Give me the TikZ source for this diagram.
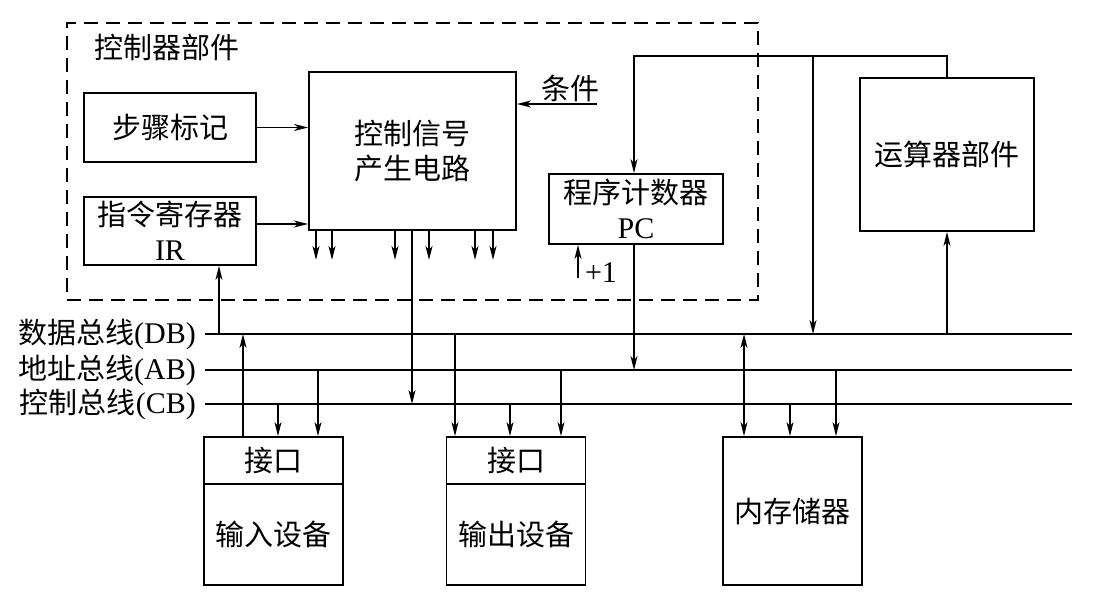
\documentclass[tikz,border=0pt]{standalone}
\usepackage{fontspec}
\setmainfont{Liberation Serif}
\newfontfamily\cjk{Noto Sans CJK SC}
\usetikzlibrary{arrows.meta}
\newcommand\myfs{\fontsize{29}{35}\selectfont}
\newcommand\lat{\rmfamily\fontsize{30}{35}\selectfont}
\begin{document}
\begin{tikzpicture}[x=1pt,y=-1pt,
  box/.style={draw, line width=1.9pt, rectangle, inner sep=0pt, align=center, font=\myfs\cjk},
  lbl/.style={inner sep=0pt, font=\myfs\cjk},
  conn/.style={line width=1.5pt},
  arr/.style={conn, -{Stealth[length=14pt,width=7pt,inset=4pt]}},
  darr/.style={conn, {Stealth[length=14pt,width=7pt,inset=4pt]}-{Stealth[length=14pt,width=7pt,inset=4pt]}},
  bus/.style={line width=1.8pt},
  frame/.style={draw, dash pattern=on 14pt off 8pt, line width=1.7pt, inner sep=0pt}]
\useasboundingbox (0,0) rectangle (1095,604);
% control unit frame
\node[frame, minimum width=691pt, minimum height=277pt] (cu) at (412.5,161.5) {};
\node[lbl] (cutitle) at (167,47) {控制器部件};
% boxes
\node[box, minimum width=172pt, minimum height=69pt] (step) at (170,127.5) {步骤标记};
\node[box, minimum width=172pt, minimum height=68pt] (ir) at (170,231) {指令寄存器\\{\lat IR}};
\node[box, minimum width=207pt, minimum height=158pt] (ctrl) at (412.5,151) {控制信号\\产生电路};
\node[box, minimum width=174pt, minimum height=70pt] (pc) at (636,209) {程序计数器\\{\lat PC}};
\node[box, minimum width=174pt, minimum height=153pt] (alu) at (947,154.5) {运算器部件};
\node[box, minimum width=139pt, minimum height=47pt] (if1) at (273.5,460.5) {接口};
\node[box, minimum width=139pt, minimum height=101pt] (in) at (273.5,534.5) {输入设备};
\node[box, minimum width=139pt, minimum height=47pt] (if2) at (516,460.5) {接口};
\node[box, minimum width=139pt, minimum height=101pt] (out) at (516,534.5) {输出设备};
\node[box, minimum width=139pt, minimum height=148pt] (mem) at (792.5,511) {内存储器};
% buses
\coordinate (dbL) at (205,334); \coordinate (dbR) at (1072,334);
\coordinate (abL) at (205,370); \coordinate (abR) at (1072,370);
\coordinate (cbL) at (205,404); \coordinate (cbR) at (1072,404);
\draw[bus] (dbL) -- (dbR);
\draw[bus] (abL) -- (abR);
\draw[bus] (cbL) -- (cbR);
\node[lbl, anchor=east] (dblab) at ([xshift=-9pt]dbL) {数据总线{\lat (DB)}};
\node[lbl, anchor=east] (ablab) at ([xshift=-9pt]abL) {地址总线{\lat (AB)}};
\node[lbl, anchor=east] (cblab) at ([xshift=-9pt]cbL) {控制总线{\lat (CB)}};
% control unit internal
\draw[arr] (step.east) -- (step.east -| ctrl.west);
\draw[arr] (ir.east |- 0,224) -- (ctrl.west |- 0,224);
\foreach \x in {316,332,395,429,475,493}
  \draw[arr] (\x,0 |- ctrl.south) -- ++(0,29);
\draw[arr] (412,0 |- ctrl.south) -- (412,0 |- cbL);
\coordinate (condin) at (597,104);
\draw[arr] (condin) -- (ctrl.east |- condin);
\node[lbl, anchor=south] (cond) at (570,102) {条件};
\draw[arr] (634,0 |- pc.south) -- (634,0 |- abL);
\coordinate (inc) at (578,278);
\draw[arr] (inc) -- (inc |- pc.south);
\node[inner sep=0pt, font=\lat] (inclab) at (601,273) {+1};
% top line from ALU
\draw[arr] (alu.north) -- (alu.north |- 0,56) -- (634,56) -- (634,0 |- pc.north);
\draw[arr] (813,56) -- (813,0 |- dbL);
\draw[arr] (alu.south |- dbL) -- (alu.south);
\draw[arr] (219,0 |- dbL) -- (219,0 |- ir.south);
% input device
\draw[arr] (243,0 |- if1.north) -- (243,0 |- dbL);
\draw[arr] (278,0 |- cbL) -- (278,0 |- if1.north);
\draw[arr] (318,0 |- abL) -- (318,0 |- if1.north);
% output device
\draw[arr] (455,0 |- dbL) -- (455,0 |- if2.north);
\draw[arr] (510,0 |- cbL) -- (510,0 |- if2.north);
\draw[arr] (561,0 |- abL) -- (561,0 |- if2.north);
% memory
\draw[darr] (744,0 |- dbL) -- (744,0 |- mem.north);
\draw[arr] (790,0 |- cbL) -- (790,0 |- mem.north);
\draw[arr] (836,0 |- abL) -- (836,0 |- mem.north);
\end{tikzpicture}
\end{document}
